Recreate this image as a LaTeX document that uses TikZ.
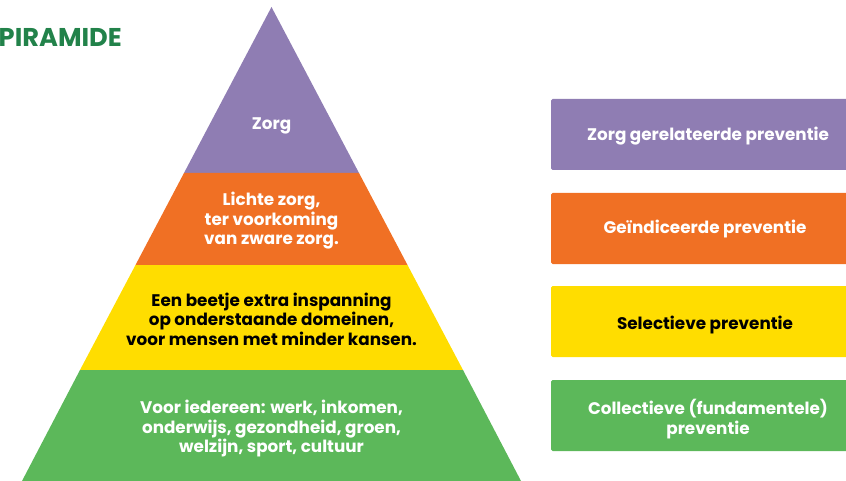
\documentclass[tikz,border=0pt]{standalone}
\usepackage{fontspec}
\setmainfont{Poppins}
\definecolor{cpurple}{HTML}{8F7DB3}
\definecolor{corange}{HTML}{F07024}
\definecolor{cyellow}{HTML}{FFDD00}
\definecolor{cgreen}{HTML}{5CB85A}
\definecolor{ctitle}{HTML}{22824A}
\begin{document}
\begin{tikzpicture}[x=1pt,y=-1pt,
  lab/.style={font=\bfseries\fontsize{16.8}{19.5}\selectfont, align=center, inner sep=0pt},
  box/.style={rounded corners=1.5pt, draw=none},
]
\useasboundingbox (0,0) rectangle (846,481);
\coordinate (apex) at (271.5,7);
\fill[cpurple] (apex) -- (359,173) -- (184,173) -- cycle;
\fill[corange] (184,173) -- (359,173) -- (407.5,265) -- (135.5,265) -- cycle;
\fill[cyellow] (135.5,265) -- (407.5,265) -- (463,370) -- (80,370) -- cycle;
\fill[cgreen] (80,370) -- (463,370) -- (521,481) -- (22,481) -- cycle;

\node[lab, text=white] (t1) at (271.5,126) {Zorg};
\node[lab, text=white] (t2) at (271.5,221) {Lichte zorg,\\ter voorkoming\\van zware zorg.};
\node[lab, text=black] (t3) at (271.5,319) {Een beetje extra inspanning\\op onderstaande domeinen,\\voor mensen met minder kansen.};
\node[lab, text=white] (t4) at (271.5,429) {Voor iedereen: werk, inkomen,\\onderwijs, gezondheid, groen,\\welzijn, sport, cultuur};

\fill[cpurple, box] (551,99) rectangle (870,170);
\fill[corange, box] (551,193) rectangle (870,264);
\fill[cyellow, box] (551,286) rectangle (870,357);
\fill[cgreen, box] (551,380) rectangle (870,451);

\node[lab, text=white] (b1) at (708,136) {Zorg gerelateerde preventie};
\node[lab, text=white] (b2) at (705,229) {Geïndiceerde preventie};
\node[lab, text=black] (b3) at (705,325) {Selectieve preventie};
\node[lab, text=white] (b4) at (708,419) {Collectieve (fundamentele)\\preventie};

\node[font=\bfseries\fontsize{25.7}{30}\selectfont, text=ctitle, anchor=east, inner sep=0pt] (title) at (122,37) {PIRAMIDE};
\end{tikzpicture}
\end{document}
